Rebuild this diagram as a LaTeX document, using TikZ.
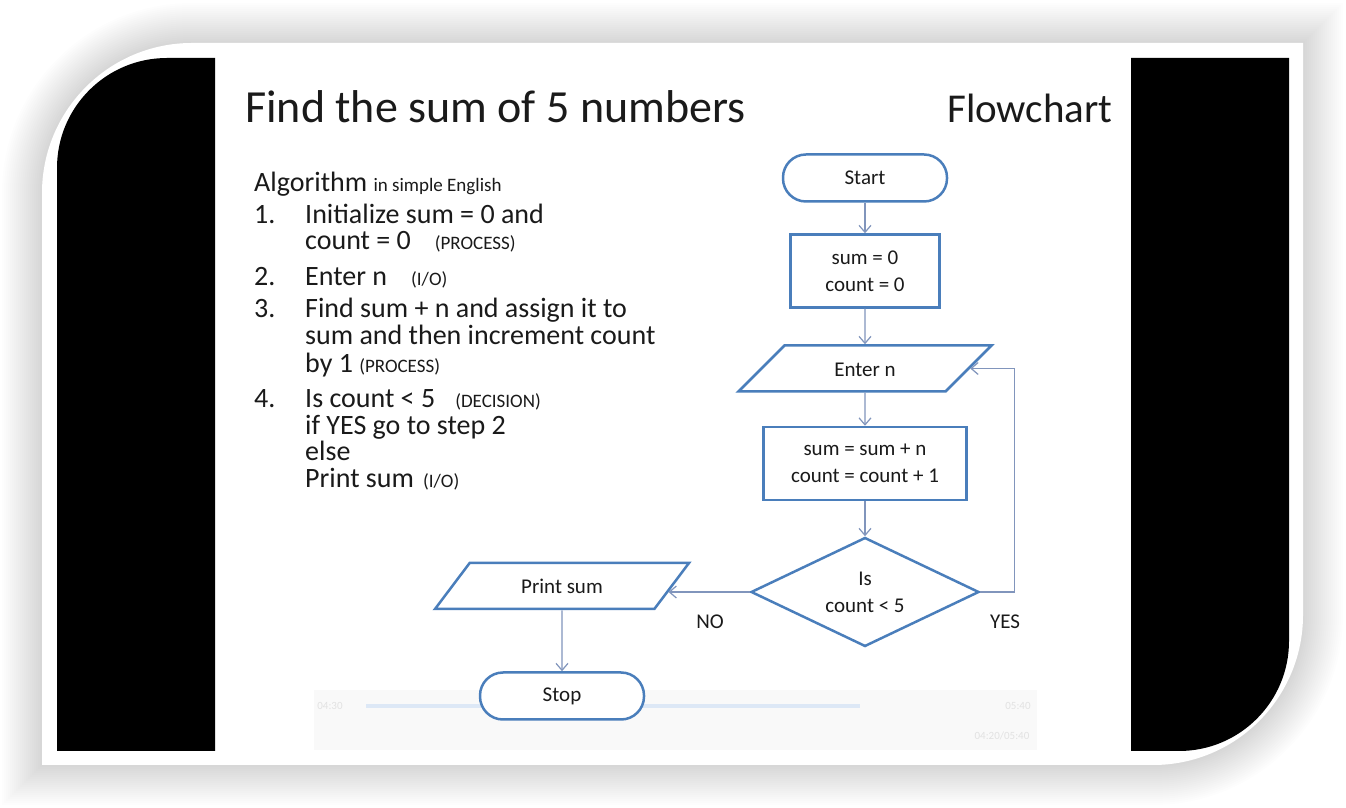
\documentclass[tikz,border=0pt]{standalone}
\usepackage{fontspec}
\setmainfont{Carlito}
\usetikzlibrary{shapes.geometric,arrows.meta,calc}

\definecolor{shapeblue}{HTML}{4A7EBB}
\definecolor{arrowblue}{HTML}{8195BC}
\definecolor{inktext}{HTML}{1A1A1A}
\definecolor{barbg}{HTML}{F9F9F9}
\definecolor{barblue}{HTML}{DDE8F6}
\definecolor{bartext}{HTML}{E2E2E2}

\newcommand{\titlefont}{\fontsize{46}{55}\selectfont}
\newcommand{\algofont}{\fontsize{28}{33}\selectfont}
\newcommand{\notefont}{\fontsize{19}{23}\selectfont}
\newcommand{\flowfont}{\fontsize{21}{27}\selectfont}
\newcommand{\framepath}{(42,43) -- (42,615) arc[start angle=180,end angle=90,radius=150] -- (1303,765) -- (1303,193) arc[start angle=0,end angle=-90,radius=150] -- cycle}

\begin{document}
\begin{tikzpicture}[x=1pt, y=1pt,
    term/.style={draw=shapeblue, line width=2.5pt, fill=white, rounded corners=23pt, minimum width=164pt, minimum height=47pt, font=\flowfont, text=inktext},
    procbox/.style={draw=shapeblue, line width=2.5pt, minimum width=#1, minimum height=73pt, align=center, font=\flowfont, text=inktext},
    iobox/.style={trapezium, trapezium stretches body, draw=shapeblue, line width=2.5pt, text height=18pt, text depth=2pt, inner ysep=13pt, font=\flowfont, text=inktext},
    decide/.style={diamond, draw=shapeblue, line width=2.5pt, aspect=2.1, inner sep=0pt, minimum width=228pt, minimum height=109pt, align=center, font=\flowfont, text=inktext},
    flow/.style={draw=arrowblue, line width=1.2pt, -{Straight Barb[length=7pt,width=12pt]}},
    algo/.style={anchor=base west, inner sep=0pt, text height=19pt, text depth=5pt, font=\algofont, text=inktext},
    heading/.style={anchor=base west, inner sep=0pt, font=\titlefont, text=inktext}
]
    \useasboundingbox (0,0) rectangle (1346,808);
    \fill[white] (0,0) rectangle (1346,808);

    % Schatten und Rahmen
    \foreach \i in {1,...,20} {
        \draw[black, opacity=0.006, line width={4pt*\i}] \framepath;
    }
    \fill[white] \framepath;

    % schwarze Balken
    \fill[black] (57,57) -- (57,640) arc[start angle=180,end angle=90,radius=110] -- (215,750) -- (215,57) -- cycle;
    \fill[black] (1131,57) -- (1131,750) -- (1289,750) -- (1289,167) arc[start angle=0,end angle=-90,radius=110] -- cycle;

    % Steuerleiste (blass)
    \fill[barbg] (314,58) rectangle (1037,118);
    \fill[barblue] (366,100) rectangle (860,104);
    \node[font=\fontsize{11}{13}\selectfont, text=bartext] (tcur) at (330,102) {04:30};
    \node[font=\fontsize{11}{13}\selectfont, text=bartext] (tend) at (1018,102) {05:40};
    \node[font=\fontsize{11}{13}\selectfont, text=bartext] (ttot) at (1002,72) {04:20/05:40};

    % Titel
    \node[heading] (ttl) at (245,685) {Find the sum of 5 numbers};
    \node[heading, font=\fontsize{41}{49}\selectfont] (fch) at (947,685) {Flowchart};

    % Algorithmus
    \node[algo] (alg) at (254,616) {Algorithm {\notefont in simple English}};
    \node[algo] (n1) at (254,584) {1.};
    \node[algo] (s1a) at (305,584) {Initialize sum = 0 and};
    \node[algo] (s1b) at (305,558) {count = 0\hspace{24pt}{\notefont (PROCESS)}};
    \node[algo] (n2) at (254,522) {2.};
    \node[algo] (s2) at (305,522) {Enter n\hspace{24pt}{\notefont (I/O)}};
    \node[algo] (n3) at (254,490) {3.};
    \node[algo] (s3a) at (305,490) {Find sum + n and assign it to};
    \node[algo] (s3b) at (305,463) {sum and then increment count};
    \node[algo] (s3c) at (305,435) {by 1 {\notefont (PROCESS)}};
    \node[algo] (n4) at (254,400) {4.};
    \node[algo] (s4a) at (305,400) {Is count < 5\hspace{20pt}{\notefont (DECISION)}};
    \node[algo] (s4b) at (305,373) {if YES go to step 2};
    \node[algo] (s4c) at (305,347) {else};
    \node[algo] (s4d) at (305,320) {Print sum\hspace{9pt}{\notefont (I/O)}};

    % Flussdiagramm
    \node[term] (start) at (865,630) {Start};
    \node[procbox=149pt] (init) at (865,537) {sum = 0\\count = 0};
    \node[iobox, trapezium left angle=45, trapezium right angle=135, minimum width=253pt] (enter) at (865,439.5) {Enter n};
    \node[procbox=203pt] (upd) at (865,344.5) {sum = sum + n\\count = count + 1};
    \node[decide] (chk) at (865,216) {Is\\count < 5};
    \node[iobox, trapezium left angle=53, trapezium right angle=127, minimum width=254pt] (prt) at (562,222) {Print sum};
    \node[term] (stop) at (562,112) {Stop};
    \coordinate (loop) at ([xshift=34pt]chk.east);
    \coordinate (entin) at ($(enter.top right corner)!0.5!(enter.bottom right corner)$);
    \coordinate (prtin) at ($(prt.top right corner)!0.63!(prt.bottom right corner)$);

    \draw[flow] (start) -- (init);
    \draw[flow] (init) -- (enter);
    \draw[flow] (enter) -- (upd);
    \draw[flow] (upd) -- (chk);
    \draw[flow] (chk.east) -- (loop) |- (entin);
    \draw[flow] (chk.west) -- (chk.west -| prtin);
    \draw[flow] (prt) -- (stop);

    \node[font=\flowfont, text=inktext] (no) at (710,186) {NO};
    \node[font=\flowfont, text=inktext] (yes) at (1005,186) {YES};
\end{tikzpicture}
\end{document}
